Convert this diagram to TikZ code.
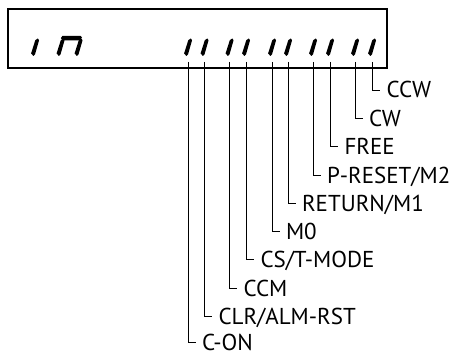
\documentclass[tikz,border=0pt]{standalone}
\usepackage{fontspec}
\setmainfont{PT Sans}

\begin{document}
\begin{tikzpicture}[x=1pt, y=-1pt,
    wire/.style={line width=0.8pt},
    sigtag/.style={anchor=west, inner sep=0pt, outer xsep=6.5pt,
      text height=16pt, text depth=0pt, font=\fontsize{23}{26}\selectfont},
    digbar/.pic={\fill (0.4,0) -- (-1.9,-2.6) -- (2.3,-15.8) -- (4.9,-17.6)
      -- (6.0,-15.6) -- (2.0,-1.6) -- cycle;}]
  \useasboundingbox (0,0) rectangle (450,353);

  % Display frame
  \draw[line width=1.1pt] (8,9) rectangle (387,68);

  % Left digits: "in"
  \pic at (33,56) {digbar};
  \pic at (58.5,56) {digbar};
  \pic at (76.5,56) {digbar};
  \fill (62.5,35.8) -- (80.5,35.8) -- (82,37.6) -- (79.5,40.3)
    -- (63,40.3) -- (60.8,38.2) -- cycle;

  % Right digits: one bar per bit
  \pic at (186,56) {digbar};
  \pic at (202.5,56) {digbar};
  \pic at (227.5,56) {digbar};
  \pic at (244,56) {digbar};
  \pic at (270,56) {digbar};
  \pic at (286,56) {digbar};
  \pic at (311,56) {digbar};
  \pic at (328,56) {digbar};
  \pic at (353,56) {digbar};
  \pic at (370,56) {digbar};

  % Bit lead-out points
  \coordinate (b1) at (188,62);
  \coordinate (b2) at (204.5,62);
  \coordinate (b3) at (229.5,62);
  \coordinate (b4) at (246.5,62);
  \coordinate (b5) at (272,62);
  \coordinate (b6) at (288,62);
  \coordinate (b7) at (313,62);
  \coordinate (b8) at (330.5,62);
  \coordinate (b9) at (355,62);
  \coordinate (b10) at (372.5,62);

  % Signal names
  \node[sigtag] (con) at (195.5,342) {C-ON};
  \node[sigtag] (clr) at (212,316.5) {CLR/ALM-RST};
  \node[sigtag] (ccm) at (237,288.3) {CCM};
  \node[sigtag] (cst) at (254,259.5) {CS/T-MODE};
  \node[sigtag] (mzero) at (279.5,231.7) {M0};
  \node[sigtag] (ret) at (295.5,203.3) {RETURN/M1};
  \node[sigtag] (pres) at (320.5,175) {P-RESET/M2};
  \node[sigtag] (free) at (338,146.7) {FREE};
  \node[sigtag] (cw) at (362.5,118.3) {CW};
  \node[sigtag] (ccw) at (380,90) {CCW};

  % Leader lines
  \draw[wire] (b1) |- (con.west);
  \draw[wire] (b2) |- (clr.west);
  \draw[wire] (b3) |- (ccm.west);
  \draw[wire] (b4) |- (cst.west);
  \draw[wire] (b5) |- (mzero.west);
  \draw[wire] (b6) |- (ret.west);
  \draw[wire] (b7) |- (pres.west);
  \draw[wire] (b8) |- (free.west);
  \draw[wire] (b9) |- (cw.west);
  \draw[wire] (b10) |- (ccw.west);
\end{tikzpicture}
\end{document}
